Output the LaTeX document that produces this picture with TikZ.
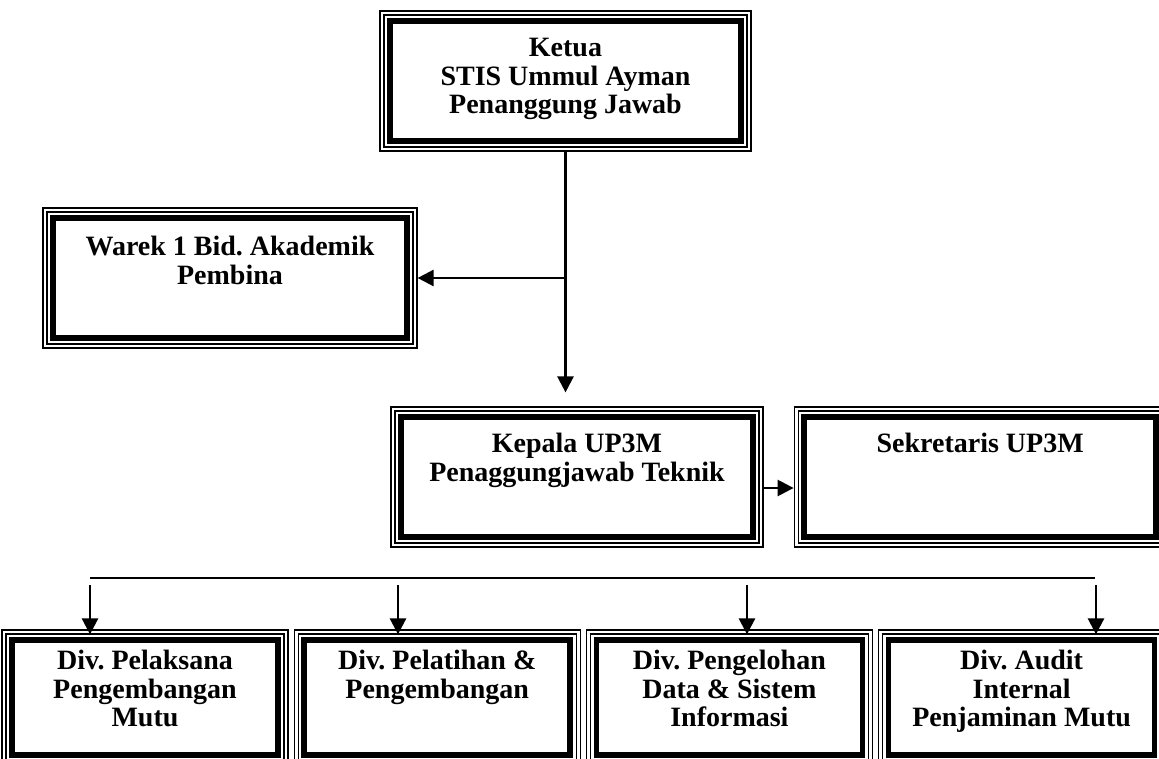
\documentclass[tikz,border=0pt]{standalone}
\usepackage{fontspec}
\setmainfont{Liberation Serif}
\frenchspacing
\usetikzlibrary{arrows.meta, positioning, calc}

\tikzset{
  textdrop/.code={\def\boxdrop{#1}},
  orgbox/.style 2 args={rectangle, draw, fill=white, line width=5.5pt,
    inner sep=0pt, outer sep=10.6pt,
    preaction={draw, line width=1.2pt, double, double distance=18.8pt},
    preaction={draw, line width=1.2pt, double, double distance=10.8pt},
    minimum width=#1, minimum height=#2,
    font=\fontsize{28}{28.5}\selectfont\bfseries,
    execute at begin node={\begin{minipage}[c][#2][t]{#1}\centering\vspace*{\boxdrop}\strut},
    execute at end node={\end{minipage}}},
  link/.style={line width=2.5pt, -{Triangle[length=16pt, width=16pt]}},
  bus/.style={line width=2.5pt}
}

\begin{document}
\begin{tikzpicture}[x=1pt, y=-1pt, node distance=5pt]
  \useasboundingbox (0,0) rectangle (1159,759);

  % atas
  \node[orgbox={351pt}{120pt}, textdrop=16pt] (ketua) at (565.5,81)
    {Ketua\\STIS Ummul Ayman\\Penanggung Jawab};
  \node[orgbox={354pt}{120pt}, textdrop=18pt] (warek) at (230,278)
    {Warek 1 Bid. Akademik\\Pembina};
  \node[orgbox={352pt}{120pt}, textdrop=16pt] (kepala) at (577,477)
    {Kepala UP3M\\Penaggungjawab Teknik};
  \node[orgbox={352pt}{120pt}, textdrop=16pt, right=30pt of kepala] (sekretaris)
    {Sekretaris UP3M};

  % divisi
  \node[orgbox={266pt}{115pt}, textdrop=10pt] (div1) at (145,697.5)
    {Div. Pelaksana\\Pengembangan\\Mutu};
  \node[orgbox={266pt}{115pt}, textdrop=10pt, right=of div1] (div2)
    {Div. Pelatihan \&\\Pengembangan};
  \node[orgbox={266pt}{115pt}, textdrop=10pt, right=of div2] (div3)
    {Div. Pengelohan\\Data \& Sistem\\Informasi};
  \node[orgbox={266pt}{115pt}, textdrop=10pt, right=of div3] (div4)
    {Div. Audit\\Internal\\Penjaminan Mutu};

  % garis
  \coordinate (split) at (ketua.south |- warek.east);
  \draw[link, shorten >=14pt] (ketua.south) -- (ketua.south |- kepala.north);
  \draw[link] (split) -- (warek.east);
  \draw[link] ([yshift=-11pt]kepala.east) -- ([yshift=-11pt]sekretaris.west);

  \coordinate (busL) at (90,578);
  \coordinate (busR) at (1095,578);
  \draw[bus] (busL) -- (busR);
  \foreach \x/\d in {90/div1, 398/div2, 747/div3, 1096/div4}
    \draw[link, shorten >=-5pt] (\x,585) coordinate (t\d) -- (t\d |- \d.north);
\end{tikzpicture}
\end{document}
